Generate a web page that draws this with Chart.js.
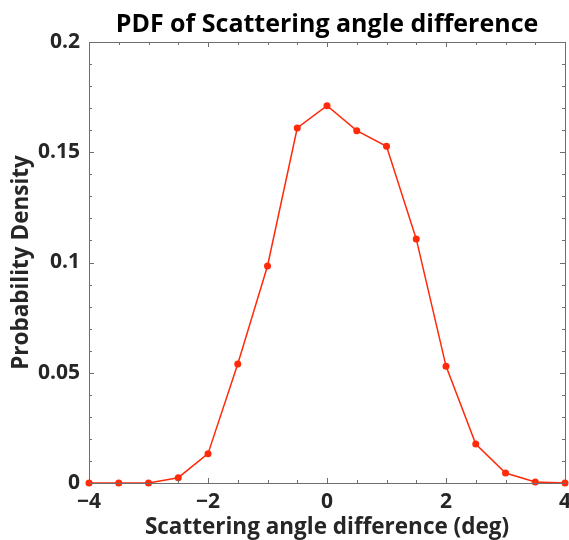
<!DOCTYPE html>
<html>
<head>
<meta charset="utf-8">
<script src="https://cdn.jsdelivr.net/npm/chart.js@4"></script>
<style>
  html, body { margin: 0; padding: 0; background: #fff; }
  #wrap { width: 569px; height: 540px; position: relative; }
</style>
</head>
<body>
<div id="wrap"><canvas id="pdf-chart"></canvas></div>
<script>
// ── data ────────────────────────────────
const angleDiff = [-4, -3.5, -3, -2.5, -2, -1.5, -1, -0.5, 0, 0.5, 1, 1.5, 2, 2.5, 3, 3.5, 4];
const pdfVals   = [0, 0, 0, 0.0024, 0.0133, 0.054, 0.0984, 0.161, 0.1711, 0.1598, 0.1527,
                   0.1107, 0.053, 0.0177, 0.0045, 0.0005, 0];
const xTicks      = [-4, -2, 0, 2, 4];
const xMinorTicks = [-3.5, -3, -2.5, -1.5, -1, -0.5, 0.5, 1, 1.5, 2.5, 3, 3.5];
const yTicks      = [0, 0.05, 0.1, 0.15, 0.2];
const yMinorTicks = [0.01, 0.02, 0.03, 0.04, 0.06, 0.07, 0.08, 0.09, 0.11, 0.12, 0.13, 0.14,
                     0.16, 0.17, 0.18, 0.19];
const chartTitle = 'PDF of Scattering angle difference';

const FONT = '"Open Sans", "DejaVu Sans", sans-serif';
const AXIS_COL = '#262626';
const LINE_COL = '#ff2a0a';

// title centred over the axes + box + inward ticks (matlab look)
const boxPlugin = {
  id: 'boxTicks',
  afterDatasetsDraw(chart) {
    const { ctx, chartArea: a, scales: { x, y } } = chart;
    ctx.save();
    ctx.strokeStyle = '#6e6e6e';
    ctx.lineWidth = 1;
    ctx.beginPath();
    const tick = (px, len, vert) => {
      if (vert) {
        ctx.moveTo(px, a.bottom); ctx.lineTo(px, a.bottom - len);
        ctx.moveTo(px, a.top);    ctx.lineTo(px, a.top + len);
      } else {
        ctx.moveTo(a.left, px);  ctx.lineTo(a.left + len, px);
        ctx.moveTo(a.right, px); ctx.lineTo(a.right - len, px);
      }
    };
    xTicks.forEach(v => tick(Math.round(x.getPixelForValue(v)) + 0.5, 5, true));
    xMinorTicks.forEach(v => tick(Math.round(x.getPixelForValue(v)) + 0.5, 3, true));
    yTicks.forEach(v => tick(Math.round(y.getPixelForValue(v)) + 0.5, 5, false));
    yMinorTicks.forEach(v => tick(Math.round(y.getPixelForValue(v)) + 0.5, 3, false));
    ctx.stroke();
    ctx.strokeRect(Math.round(a.left) + 0.5, Math.round(a.top) + 0.5,
                   Math.round(a.right - a.left), Math.round(a.bottom - a.top));

    ctx.fillStyle = '#000';
    ctx.font = 'bold 25px ' + FONT;
    ctx.textAlign = 'center';
    ctx.textBaseline = 'alphabetic';
    ctx.fillText(chartTitle, (a.left + a.right) / 2, 32);
    ctx.restore();
  }
};

new Chart(document.getElementById('pdf-chart').getContext('2d'), {
  type: 'scatter',
  data: {
    datasets: [{
      label: 'PDF',
      data: angleDiff.map((v, i) => ({ x: v, y: pdfVals[i] })),
      showLine: true,
      borderColor: LINE_COL,
      backgroundColor: LINE_COL,
      borderWidth: 1.5,
      pointRadius: 3.5,
      pointBorderWidth: 0,
      tension: 0,
      clip: false,
    }]
  },
  plugins: [boxPlugin],
  options: {
    responsive: true, maintainAspectRatio: false, animation: false,
    layout: { padding: { left: 0, right: 4, top: 42, bottom: 0 } },
    plugins: {
      legend: { display: false },
      tooltip: { enabled: false },
      title: { display: false }
    },
    scales: {
      x: {
        type: 'linear', min: -4, max: 4,
        afterBuildTicks: s => { s.ticks = xTicks.map(v => ({ value: v })); },
        afterFit: s => { s.height = 57; s.paddingLeft = 0; s.paddingRight = 0; },
        grid: { display: false, drawTicks: false },
        border: { display: false },
        ticks: {
          color: AXIS_COL, padding: 6, maxRotation: 0, autoSkip: false,
          font: { family: FONT, size: 21, weight: 'bold' },
          callback: v => String(v).replace('-', '\u2212')
        },
        title: {
          display: true, text: 'Scattering angle difference (deg)', color: AXIS_COL,
          font: { family: FONT, size: 22.5, weight: 'bold' },
          padding: { top: 0, bottom: -1 }
        }
      },
      y: {
        type: 'linear', min: 0, max: 0.2,
        afterBuildTicks: s => { s.ticks = yTicks.map(v => ({ value: v })); },
        afterFit: s => { s.width = 89; s.paddingTop = 0; s.paddingBottom = 0; },
        grid: { display: false, drawTicks: false },
        border: { display: false },
        ticks: {
          color: AXIS_COL, padding: 9, autoSkip: false,
          font: { family: FONT, size: 21, weight: 'bold' },
          callback: v => String(v)
        },
        title: {
          display: true, text: 'Probability Density', color: AXIS_COL,
          font: { family: FONT, size: 22.5, weight: 'bold' },
          padding: { top: 8, bottom: 0 }
        }
      }
    }
  }
});
</script>
</body>
</html>
